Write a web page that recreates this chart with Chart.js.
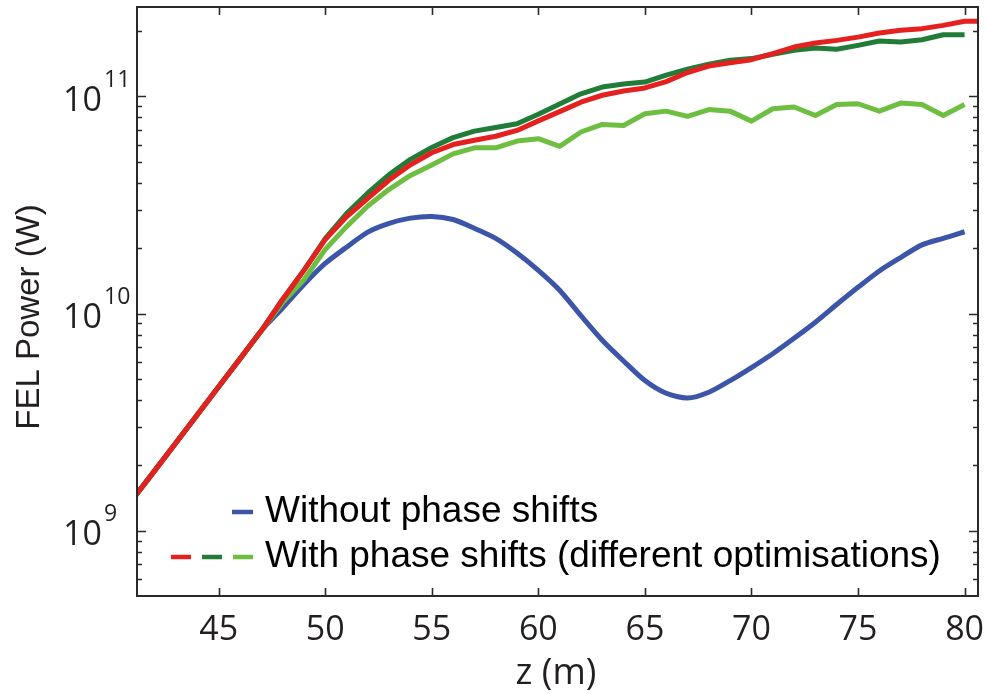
<!DOCTYPE html>
<html><head><meta charset="utf-8">
<script src="https://cdn.jsdelivr.net/npm/chart.js@4.4.1/dist/chart.umd.min.js"></script>
<style>html,body{margin:0;padding:0;background:#fff;}#wrap{width:988px;height:694px;}</style>
</head><body><div id="wrap"><canvas id="c" width="988" height="694"></canvas></div>
<script>
// z positions (m)
const zPositions = [41,42,43,44,45,46,47,48,49,50,51,52,53,54,55,56,57,58,59,60,61,62,63,64,65,66,67,68,69,70,71,72,73,74,75,76,77,78,79,80,81];
// FEL power (W)
const withoutShifts = [1.41e9,1.89e9,2.54e9,3.42e9,4.60e9,6.18e9,8.32e9,1.06e10,1.36e10,1.70e10,2.02e10,2.37e10,2.60e10,2.75e10,2.80e10,2.71e10,2.47e10,2.22e10,1.90e10,1.58e10,1.28e10,9.77e9,7.53e9,6.04e9,4.91e9,4.29e9,4.08e9,4.34e9,4.91e9,5.64e9,6.53e9,7.69e9,9.12e9,1.10e10,1.32e10,1.57e10,1.81e10,2.07e10,2.22e10,2.38e10];
const withShiftsRed = [1.41e9,1.89e9,2.54e9,3.42e9,4.60e9,6.18e9,8.32e9,1.16e10,1.58e10,2.19e10,2.79e10,3.39e10,4.12e10,4.84e10,5.50e10,6.00e10,6.28e10,6.55e10,6.97e10,7.71e10,8.51e10,9.40e10,1.012e11,1.059e11,1.094e11,1.169e11,1.288e11,1.380e11,1.429e11,1.476e11,1.574e11,1.687e11,1.762e11,1.811e11,1.875e11,1.959e11,2.014e11,2.051e11,2.123e11,2.218e11,2.218e11];
const withShiftsDarkGreen = [1.41e9,1.89e9,2.54e9,3.42e9,4.60e9,6.18e9,8.32e9,1.16e10,1.58e10,2.213e10,2.884e10,3.589e10,4.365e10,5.129e10,5.821e10,6.457e10,6.918e10,7.194e10,7.482e10,8.279e10,9.226e10,1.028e11,1.104e11,1.140e11,1.164e11,1.253e11,1.334e11,1.406e11,1.466e11,1.493e11,1.563e11,1.629e11,1.671e11,1.648e11,1.718e11,1.799e11,1.778e11,1.824e11,1.923e11,1.923e11];
const withShiftsLightGreen = [1.41e9,1.89e9,2.54e9,3.42e9,4.60e9,6.18e9,8.32e9,1.122e10,1.429e10,1.972e10,2.512e10,3.126e10,3.733e10,4.325e10,4.831e10,5.433e10,5.794e10,5.794e10,6.223e10,6.383e10,5.888e10,6.855e10,7.430e10,7.345e10,8.318e10,8.551e10,8.091e10,8.690e10,8.551e10,7.691e10,8.770e10,8.933e10,8.166e10,9.183e10,9.247e10,8.551e10,9.311e10,9.183e10,8.166e10,9.183e10];
// axis ticks
const xTickValues = [45,50,55,60,65,70,75,80];
const yTickValues = [1e9,1e10,1e11];
const yTickExponents = ['9','10','11'];
const yMinorValues = [6e8,7e8,8e8,9e8,2e9,3e9,4e9,5e9,6e9,7e9,8e9,9e9,2e10,3e10,4e10,5e10,6e10,7e10,8e10,9e10,2e11];
const legendLabels = ['Without phase shifts','With phase shifts (different optimisations)'];
const xTitle = 'z (m)';
const yTitle = 'FEL Power (W)';

const C_BLUE = '#3c55a9', C_RED = '#e5211f', C_DG = '#217c37', C_LG = '#6ebe42';
const TXT = '#231f20';

function pts(arr){ return arr.map((v,i)=>({x:zPositions[i], y:v})); }

const decor = {
  id:'decor',
  afterDraw(chart){
    const ctx = chart.ctx, a = chart.chartArea, xs = chart.scales.x, ys = chart.scales.y;
    ctx.save();
    ctx.strokeStyle = '#2a2a2a';
    ctx.lineWidth = 2;
    ctx.strokeRect(a.left, a.top, a.right-a.left, a.bottom-a.top);
    ctx.lineWidth = 1.6;
    ctx.beginPath();
    xTickValues.forEach(v=>{
      const px = Math.round(xs.getPixelForValue(v))+0.5;
      ctx.moveTo(px, a.bottom); ctx.lineTo(px, a.bottom-8);
      ctx.moveTo(px, a.top); ctx.lineTo(px, a.top+8);
    });
    yTickValues.forEach(v=>{
      const py = Math.round(ys.getPixelForValue(v))+0.5;
      ctx.moveTo(a.left, py); ctx.lineTo(a.left+9, py);
      ctx.moveTo(a.right, py); ctx.lineTo(a.right-9, py);
    });
    yMinorValues.forEach(v=>{
      const py = Math.round(ys.getPixelForValue(v))+0.5;
      ctx.moveTo(a.left, py); ctx.lineTo(a.left+5, py);
      ctx.moveTo(a.right, py); ctx.lineTo(a.right-5, py);
    });
    ctx.stroke();

    // x tick labels
    ctx.fillStyle = TXT;
    ctx.font = '34px "Open Sans"';
    ctx.textAlign = 'center';
    ctx.textBaseline = 'alphabetic';
    xTickValues.forEach(v=>{
      ctx.fillText(String(v), xs.getPixelForValue(v), 640);
    });
    // y tick labels 10^n
    yTickValues.forEach((v,i)=>{
      const py = ys.getPixelForValue(v);
      ctx.font = '34px "Open Sans"';
      ctx.textAlign = 'right';
      ctx.fillText('10', 102, py+14.5);
      ctx.font = '23px "Open Sans"';
      ctx.textAlign = 'left';
      ctx.fillText(yTickExponents[i], 104, py-9.5);
    });
    // x title
    ctx.font = '36px "Open Sans"';
    ctx.textAlign = 'center';
    ctx.fillText(xTitle, 556, 684);
    // y title
    ctx.save();
    ctx.translate(30, 317);
    ctx.rotate(-Math.PI/2);
    ctx.font = '33px "Liberation Sans"';
    ctx.textAlign = 'center';
    ctx.textBaseline = 'middle';
    ctx.fillText(yTitle, 0, 0);
    ctx.restore();

    // legend
    ctx.lineWidth = 4.5;
    ctx.lineCap = 'butt';
    const seg = (c,x1,x2,y)=>{ ctx.strokeStyle=c; ctx.beginPath(); ctx.moveTo(x1,y); ctx.lineTo(x2,y); ctx.stroke(); };
    seg(C_BLUE, 232, 253, 512);
    seg(C_RED, 171, 191, 557);
    seg(C_DG, 202, 222, 557);
    seg(C_LG, 233, 253, 557);
    ctx.fillStyle = '#000';
    ctx.font = '37px "Liberation Sans"';
    ctx.textAlign = 'left';
    ctx.textBaseline = 'alphabetic';
    ctx.fillText(legendLabels[0], 265, 522);
    ctx.fillText(legendLabels[1], 265, 567);
    ctx.restore();
  }
};

new Chart(document.getElementById('c'), {
  type:'line',
  data:{
    datasets:[
      {label:legendLabels[1], data:pts(withShiftsRed), borderColor:C_RED},
      {label:legendLabels[1], data:pts(withShiftsDarkGreen), borderColor:C_DG},
      {label:legendLabels[1], data:pts(withShiftsLightGreen), borderColor:C_LG},
      {label:legendLabels[0], data:pts(withoutShifts), borderColor:C_BLUE, tension:0.25}
    ]
  },
  options:{
    responsive:false, animation:false, devicePixelRatio:1,
    layout:{padding:{left:137, top:7, right:10, bottom:98}},
    elements:{point:{radius:0}, line:{borderWidth:5, tension:0, borderJoinStyle:'round', fill:false}},
    plugins:{legend:{display:false}, tooltip:{enabled:false}},
    scales:{
      x:{type:'linear', min:41.17, max:80.63, display:false},
      y:{type:'logarithmic', min:5e8, max:2.58e11, display:false}
    }
  },
  plugins:[decor]
});
</script></body></html>
